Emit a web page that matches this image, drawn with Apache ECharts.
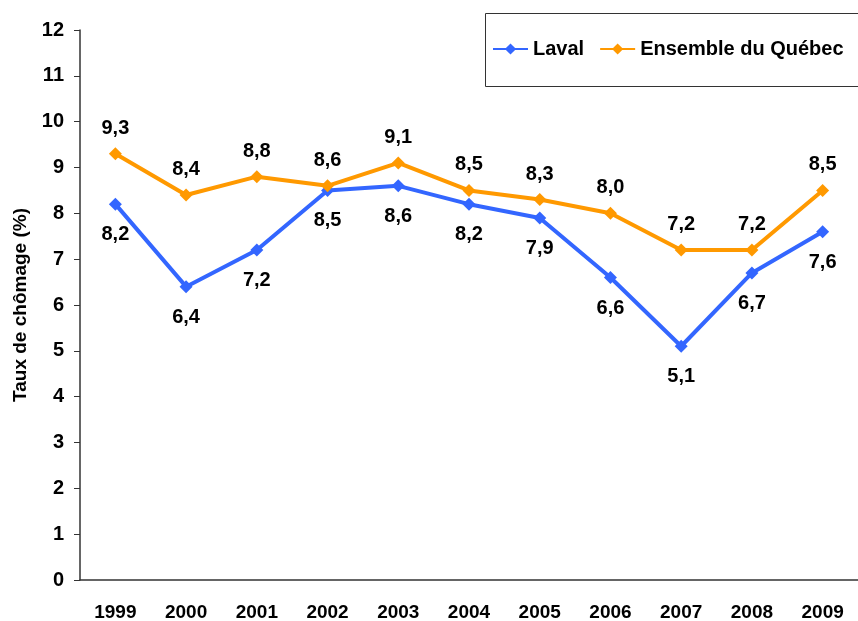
<!DOCTYPE html>
<html>
<head>
<meta charset="utf-8">
<script src="https://cdn.jsdelivr.net/npm/echarts@6/dist/echarts.min.js"></script>
<style>
  html, body { margin: 0; padding: 0; background: #fff; }
  #chart { width: 858px; height: 621px; }
</style>
</head>
<body>
<div id="chart"></div>
<script>
// années
const years = ['1999', '2000', '2001', '2002', '2003', '2004', '2005', '2006', '2007', '2008', '2009']
// taux de chômage (%)
const laval = [8.2, 6.4, 7.2, 8.5, 8.6, 8.2, 7.9, 6.6, 5.1, 6.7, 7.6]
const quebec = [9.3, 8.4, 8.8, 8.6, 9.1, 8.5, 8.3, 8.0, 7.2, 7.2, 8.5]

const font = 'Liberation Sans, Arial, sans-serif'
const fmt = p => p.value.toFixed(1).replace('.', ',')

const myChart = echarts.init(document.getElementById('chart'))
const option = {
  animation: false,
  backgroundColor: '#ffffff',
  color: ['#3366FF', '#FF9900'],
  grid: { left: 80, right: 0, top: 30, bottom: 41, outerBoundsMode: 'none' },
  // cadre de la légende
  graphic: [{
    type: 'rect',
    left: 483,
    top: 11,
    shape: { width: 374, height: 73 },
    style: { fill: 'none', stroke: '#333', lineWidth: 1 }
  }],
  legend: {
    left: 492,
    top: 39,
    padding: 0,
    itemWidth: 35,
    itemHeight: 14,
    itemGap: 15,
    textStyle: { fontFamily: font, fontWeight: 'bold', fontSize: 20, color: '#000' },
    data: ['Laval', 'Ensemble du Québec']
  },
  xAxis: {
    type: 'category',
    data: years,
    boundaryGap: true,
    axisLine: { lineStyle: { color: '#333', width: 1.5 } },
    axisTick: { show: false },
    axisLabel: { fontFamily: font, fontWeight: 'bold', fontSize: 19, color: '#000', margin: 23 }
  },
  yAxis: {
    type: 'value',
    min: 0,
    max: 12,
    interval: 1,
    name: 'Taux de chômage (%)',
    nameLocation: 'middle',
    nameGap: 50,
    nameTextStyle: { fontFamily: font, fontWeight: 'bold', fontSize: 19, color: '#000' },
    splitLine: { show: false },
    axisLine: { show: true, lineStyle: { color: '#333', width: 1.5 } },
    axisTick: { show: true, length: 6, lineStyle: { color: '#333' } },
    axisLabel: { fontFamily: font, fontWeight: 'bold', fontSize: 20, color: '#000', margin: 16 }
  },
  series: [
    {
      name: 'Laval',
      type: 'line',
      data: laval,
      symbol: 'diamond',
      symbolSize: 13,
      lineStyle: { width: 4 },
      label: {
        show: true,
        position: 'bottom',
        distance: 14,
        formatter: fmt,
        fontFamily: font,
        fontWeight: 'bold',
        fontSize: 20,
        color: '#000'
      }
    },
    {
      name: 'Ensemble du Québec',
      type: 'line',
      data: quebec,
      symbol: 'diamond',
      symbolSize: 13,
      lineStyle: { width: 4 },
      label: {
        show: true,
        position: 'top',
        distance: 9,
        formatter: fmt,
        fontFamily: font,
        fontWeight: 'bold',
        fontSize: 20,
        color: '#000'
      }
    }
  ]
}
myChart.setOption(option)
</script>
</body>
</html>
